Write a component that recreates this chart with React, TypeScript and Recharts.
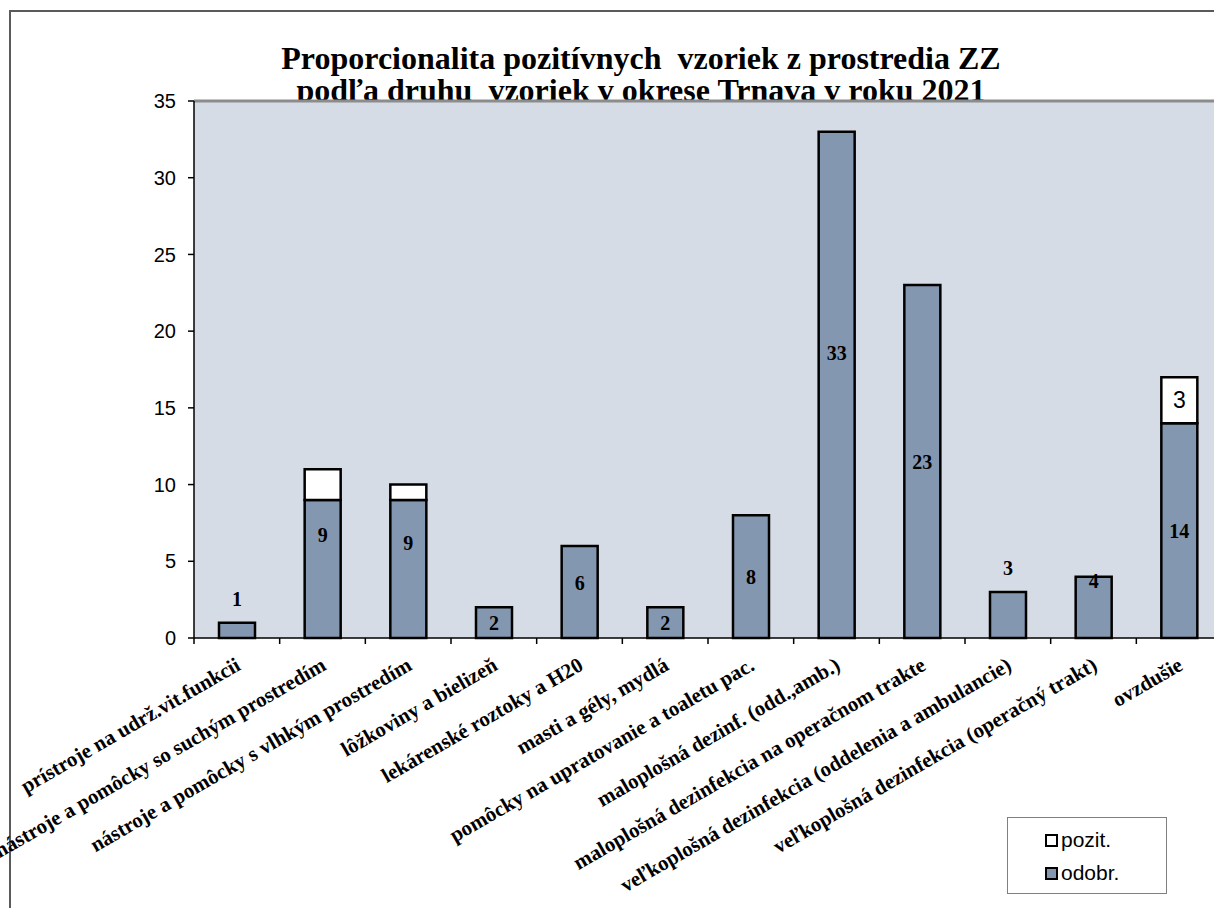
import React from 'react';
import { BarChart, Bar, XAxis, YAxis, CartesianGrid, LabelList, ReferenceLine } from 'recharts';

const categories = [
  'prístroje na udrž.vit.funkcii',
  'nástroje a pomôcky so suchým prostredím',
  'nástroje a pomôcky s vlhkým prostredím',
  'lôžkoviny a bielizeň',
  'lekárenské roztoky a H20',
  'masti a gély, mydlá',
  'pomôcky na upratovanie a toaletu pac.',
  'maloplošná dezinf. (odd.,amb.)',
  'maloplošná dezinfekcia na operačnom trakte',
  'veľkoplošná dezinfekcia (oddelenia a ambulancie)',
  'veľkoplošná dezinfekcia (operačný trakt)',
  'ovzdušie',
];
const odobr = [1, 9, 9, 2, 6, 2, 8, 33, 23, 3, 4, 14];
const pozit = [0, 2, 1, 0, 0, 0, 0, 0, 0, 0, 0, 3];
const yTicks = [0, 5, 10, 15, 20, 25, 30, 35];

// label placement (style only): drawn above the bar, or nudged up inside it
const labelAbove = [0, 9];
const labelNudge = [0, -34, -26, 0, -9, 0, 0, -32, 0, 0, -26, 0];

const data = categories.map((name, i) => ({ name, odobr: odobr[i], pozit: pozit[i] }));

const CHART_W = 1230;
const CHART_H = 908;
const M = { top: 101, right: 8, bottom: 10, left: 134 };
const Y_W = 60;
const X_H = 260;
const band = (CHART_W - M.left - Y_W - M.right) / categories.length;

const serif = '"Liberation Serif", "Times New Roman", serif';
const sans = '"Liberation Sans", Arial, sans-serif';
const barFill = '#8497B0';

const XTick = (props: any) => {
  const { x, y, payload } = props;
  const lx = x - band / 2;
  const tx = x + 5;
  const ty = y + 31;
  return (
    <g>
      <line x1={lx} y1={y} x2={lx} y2={y + 6} stroke="#000" strokeWidth={1.5} />
      <text
        x={tx}
        y={ty}
        textAnchor="end"
        transform={`rotate(-30, ${tx}, ${ty})`}
        fontFamily={serif}
        fontWeight="bold"
        fontSize={21}
        fill="#000"
      >
        {payload.value}
      </text>
    </g>
  );
};

const OdobrLabel = (props: any) => {
  const { x, y, width, height, value, index } = props;
  const above = labelAbove.includes(index);
  const cy = above ? y - 24 : y + height / 2 + (labelNudge[index] ?? 0);
  return (
    <text
      x={x + width / 2}
      y={cy}
      textAnchor="middle"
      dominantBaseline="central"
      fontFamily={serif}
      fontWeight="bold"
      fontSize={20}
      fill="#000"
    >
      {value}
    </text>
  );
};

const PozitLabel = (props: any) => {
  const { x, y, width, height, value } = props;
  if (!value || value < 3) return null;
  return (
    <text
      x={x + width / 2}
      y={y + height / 2}
      textAnchor="middle"
      dominantBaseline="central"
      fontFamily={sans}
      fontSize={23}
      fill="#000"
    >
      {value}
    </text>
  );
};

const Swatch = ({ color }: { color: string }) => (
  <span
    style={{
      display: 'inline-block',
      width: 9,
      height: 9,
      border: '2.5px solid #000',
      background: color,
      marginRight: 3,
      verticalAlign: 'middle',
    }}
  />
);

export default function App() {
  return (
    <div
      style={{
        position: 'fixed',
        left: 0,
        top: 0,
        width: 1214,
        height: 908,
        overflow: 'hidden',
        background: '#fff',
      }}
    >
      <div
        style={{
          position: 'absolute',
          left: 9,
          top: 10,
          width: 1300,
          height: 1000,
          borderTop: '2px solid #5a5a5a',
          borderLeft: '2px solid #5a5a5a',
        }}
      />
      <div
        style={{
          position: 'absolute',
          left: 141,
          top: 42,
          width: 1000,
          textAlign: 'center',
          fontFamily: serif,
          fontWeight: 'bold',
          fontSize: 32,
          lineHeight: '32px',
          color: '#000',
        }}
      >
        Proporcionalita pozitívnych&nbsp; vzoriek z prostredia ZZ
        <br />
        podľa druhu&nbsp; vzoriek v okrese Trnava v roku 2021
      </div>
      <div style={{ position: 'absolute', left: 0, top: 0 }}>
        <BarChart width={CHART_W} height={CHART_H} data={data} margin={M} barSize={36}>
          <CartesianGrid fill="#D6DCE5" horizontal={false} vertical={false} />
          <ReferenceLine y={35} stroke="#8c8c8c" strokeWidth={3} />
          <XAxis
            dataKey="name"
            interval={0}
            height={X_H}
            tickLine={false}
            tickSize={0}
            tickMargin={0}
            axisLine={{ stroke: '#000', strokeWidth: 1.5 }}
            tick={<XTick />}
          />
          <YAxis
            width={Y_W}
            domain={[0, 35]}
            ticks={yTicks}
            interval={0}
            tickSize={6}
            tickMargin={12}
            axisLine={{ stroke: '#000', strokeWidth: 1.5 }}
            tickLine={{ stroke: '#000', strokeWidth: 1.5 }}
            tick={{ fill: '#000', fontFamily: sans, fontSize: 20 }}
          />
          <Bar dataKey="odobr" stackId="a" fill={barFill} stroke="#000" strokeWidth={2.5} isAnimationActive={false}>
            <LabelList dataKey="odobr" content={<OdobrLabel />} />
          </Bar>
          <Bar dataKey="pozit" stackId="a" fill="#fff" stroke="#000" strokeWidth={2.5} isAnimationActive={false}>
            <LabelList dataKey="pozit" content={<PozitLabel />} />
          </Bar>
        </BarChart>
      </div>
      <div
        style={{
          position: 'absolute',
          left: 1007,
          top: 817,
          width: 160,
          height: 77,
          border: '1px solid #808080',
          background: '#fff',
          fontFamily: sans,
          fontSize: 21,
          color: '#000',
          boxSizing: 'border-box',
          paddingLeft: 37,
          paddingTop: 5,
          lineHeight: '32px',
        }}
      >
        <div>
          <Swatch color="#fff" />
          <span style={{ verticalAlign: 'middle' }}>pozit.</span>
        </div>
        <div>
          <Swatch color={barFill} />
          <span style={{ verticalAlign: 'middle' }}>odobr.</span>
        </div>
      </div>
    </div>
  );
}
